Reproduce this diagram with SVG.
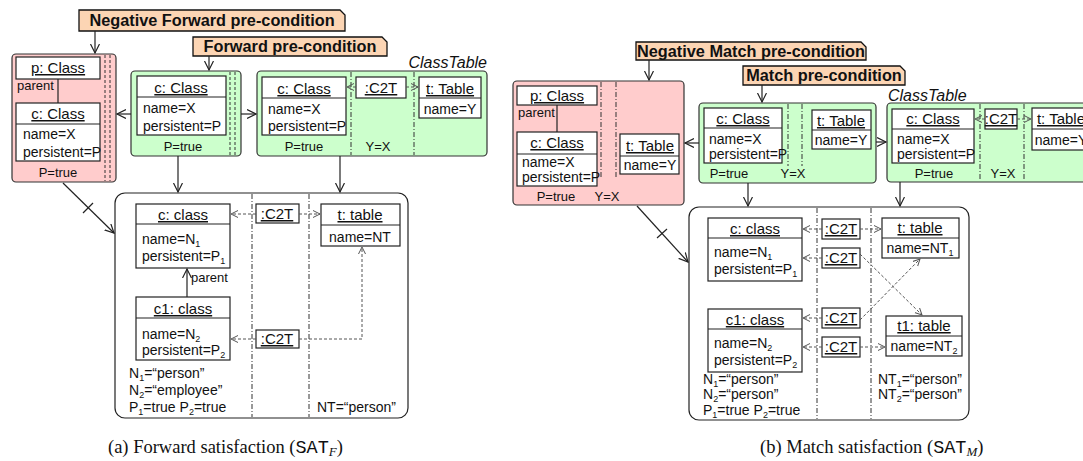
<svg xmlns="http://www.w3.org/2000/svg" width="1083" height="461" viewBox="0 0 1083 461">
<defs>
<style>
text{font-family:"Liberation Sans",Arial,sans-serif;fill:#111}
.lbl{fill:#fcd5b4;stroke:#111;stroke-width:1.3}
.lt{font-size:16.3px;font-weight:bold;text-anchor:middle}
.red{fill:#ffcccc;stroke:#333;stroke-width:1.2}
.grn{fill:#ccffcc;stroke:#333;stroke-width:1.2}
.obj{fill:#fff;stroke:#222;stroke-width:1.2}
.frm{fill:#fff;stroke:#222;stroke-width:1.2}
.ln{stroke:#222;stroke-width:1.2;fill:none}
.dd{stroke:#333;stroke-width:1;stroke-dasharray:5 2 1 2;fill:none}
.dsh{stroke:#333;stroke-width:1;stroke-dasharray:3 2;fill:none}
.nm{font-size:15px;text-anchor:middle;text-decoration:underline}
.at{font-size:14px}
.sm{font-size:13px}
.mid{text-anchor:middle}
.ar{stroke:#222;stroke-width:1.2;fill:none;marker-end:url(#a)}
.da{stroke:#555;stroke-width:1;stroke-dasharray:3 2;fill:none;marker-end:url(#d)}
.cap{font-family:"Liberation Serif","Times New Roman",serif;font-size:18.5px}
</style>
<marker id="a" markerUnits="userSpaceOnUse" markerWidth="12" markerHeight="12" refX="9" refY="5" orient="auto"><path d="M0,0.5 L9,5 L0,9.5" fill="none" stroke="#222" stroke-width="1.2"/></marker>
<marker id="d" markerUnits="userSpaceOnUse" markerWidth="10" markerHeight="10" refX="7" refY="4" orient="auto"><path d="M0,0.5 L7,4 L0,7.5" fill="none" stroke="#555" stroke-width="1"/></marker>
</defs>
<rect width="1083" height="461" fill="#fff"/>

<!-- ===== Panel (a) ===== -->
<g id="lbl-neg-fwd">
<path class="lbl" d="M79,10 H340 L345,15 V31 H79 Z"/>
<text class="lt" x="212" y="26">Negative Forward pre-condition</text>
</g>
<g id="lbl-fwd">
<path class="lbl" d="M193,37 H382 L387,42 V56 H193 Z"/>
<text class="lt" x="290" y="52">Forward pre-condition</text>
</g>

<g id="nac-a">
<rect class="red" x="12" y="54" width="104" height="128" rx="4"/>
<line class="dsh" x1="105" y1="55" x2="105" y2="181"/>
<line class="dsh" x1="110" y1="55" x2="110" y2="181"/>
<rect class="obj" x="16" y="57" width="84" height="22"/>
<text class="nm" x="58" y="73">p: Class</text>
<line class="ln" x1="58" y1="79" x2="58" y2="103"/>
<text class="sm" x="17" y="90">parent</text>
<rect class="obj" x="16" y="103" width="84" height="58"/>
<line class="ln" x1="16" y1="124" x2="100" y2="124"/>
<text class="nm" x="58" y="119">c: Class</text>
<text class="at" x="23" y="139">name=X</text>
<text class="at" x="23" y="157">persistent=P</text>
<text class="sm mid" x="58" y="177">P=true</text>
</g>

<g id="fwd-a">
<rect class="grn" x="131" y="71" width="110" height="85" rx="4"/>
<line class="dsh" x1="230" y1="72" x2="230" y2="155"/>
<line class="dsh" x1="235" y1="72" x2="235" y2="155"/>
<rect class="obj" x="137" y="76" width="89" height="59"/>
<line class="ln" x1="137" y1="97" x2="226" y2="97"/>
<text class="nm" x="181" y="93">c: Class</text>
<text class="at" x="143" y="113">name=X</text>
<text class="at" x="143" y="131">persistent=P</text>
<text class="sm mid" x="183" y="151">P=true</text>
</g>

<g id="ct-a">
<text x="487" y="68" font-size="16" font-style="italic" text-anchor="end">ClassTable</text>
<rect class="grn" x="257" y="71" width="230" height="85" rx="4"/>
<line class="dd" x1="351" y1="72" x2="351" y2="155"/>
<line class="dd" x1="414" y1="72" x2="414" y2="155"/>
<rect class="obj" x="262" y="77" width="84" height="58"/>
<line class="ln" x1="262" y1="98" x2="346" y2="98"/>
<text class="nm" x="304" y="94">c: Class</text>
<text class="at" x="268" y="114">name=X</text>
<text class="at" x="268" y="131">persistent=P</text>
<rect class="obj" x="356" y="77" width="50" height="21"/>
<text class="nm" x="381" y="93">:C2T</text>
<rect class="obj" x="419" y="77" width="62" height="41"/>
<line class="ln" x1="419" y1="98" x2="481" y2="98"/>
<text class="nm" x="450" y="94">t: Table</text>
<text class="at mid" x="450" y="114">name=Y</text>
<text class="sm mid" x="304" y="151">P=true</text>
<text class="sm mid" x="378" y="151">Y=X</text>
</g>

<g id="sat-a">
<rect class="frm" x="115" y="193" width="293" height="225" rx="10"/>
<line class="dd" x1="252" y1="194" x2="252" y2="417"/>
<line class="dd" x1="309" y1="194" x2="309" y2="417"/>
<rect class="obj" x="136" y="204" width="94" height="64"/>
<line class="ln" x1="136" y1="224" x2="230" y2="224"/>
<text class="nm" x="183" y="220">c: class</text>
<text class="at" x="142" y="244">name=N<tspan font-size="9" dy="3">1</tspan></text>
<text class="at" x="142" y="261">persistent=P<tspan font-size="9" dy="3">1</tspan></text>
<rect class="obj" x="136" y="297" width="94" height="63"/>
<line class="ln" x1="136" y1="318" x2="230" y2="318" stroke-width="1.6"/>
<text class="nm" x="183" y="314">c1: class</text>
<text class="at" x="142" y="339">name=N<tspan font-size="9" dy="3">2</tspan></text>
<text class="at" x="142" y="355">persistent=P<tspan font-size="9" dy="3">2</tspan></text>
<text class="sm" x="191" y="282">parent</text>
<rect class="obj" x="256" y="204" width="43" height="19"/>
<text class="nm" x="277" y="219">:C2T</text>
<rect class="obj" x="256" y="330" width="43" height="18"/>
<text class="nm" x="277" y="344">:C2T</text>
<rect class="obj" x="321" y="204" width="79" height="42"/>
<line class="ln" x1="321" y1="225" x2="400" y2="225"/>
<text class="nm" x="360" y="220">t: table</text>
<text class="at mid" x="360" y="242">name=NT</text>
<text class="at" x="129" y="378">N<tspan font-size="9" dy="3">1</tspan><tspan dy="-3">=“person”</tspan></text>
<text class="at" x="129" y="395">N<tspan font-size="9" dy="3">2</tspan><tspan dy="-3">=“employee”</tspan></text>
<text class="at" x="129" y="412">P<tspan font-size="9" dy="3">1</tspan><tspan dy="-3">=true P</tspan><tspan font-size="9" dy="3">2</tspan><tspan dy="-3">=true</tspan></text>
<text class="at" x="317" y="412">NT=“person”</text>
</g>

<!-- ===== Panel (b) ===== -->
<g id="lbl-neg-match">
<path class="lbl" d="M636,42 H861 L866,47 V60 H636 Z"/>
<text class="lt" x="751" y="57">Negative Match pre-condition</text>
</g>
<g id="lbl-match">
<path class="lbl" d="M743,66 H900 L905,71 V85 H743 Z"/>
<text class="lt" x="824" y="81">Match pre-condition</text>
</g>

<g id="nac-b">
<rect class="red" x="513" y="81" width="171" height="124" rx="4"/>
<line class="dd" x1="601" y1="82" x2="601" y2="178"/>
<line class="dd" x1="616" y1="82" x2="616" y2="178"/>
<rect class="obj" x="517" y="86" width="80" height="19"/>
<text class="nm" x="557" y="101">p: Class</text>
<line class="ln" x1="557" y1="105" x2="557" y2="132"/>
<text class="sm" x="518" y="117">parent</text>
<rect class="obj" x="517" y="132" width="80" height="54"/>
<line class="ln" x1="517" y1="154" x2="597" y2="154"/>
<text class="nm" x="557" y="148">c: Class</text>
<text class="at" x="522" y="167">name=X</text>
<text class="at" x="522" y="182">persistent=P</text>
<rect class="obj" x="620" y="134" width="59" height="40"/>
<line class="ln" x1="620" y1="156" x2="679" y2="156"/>
<text class="nm" x="650" y="151">t: Table</text>
<text class="at mid" x="650" y="170">name=Y</text>
<text class="sm mid" x="556" y="201">P=true</text>
<text class="sm mid" x="607" y="201">Y=X</text>
</g>

<g id="match-b">
<rect class="grn" x="699" y="103" width="177" height="80" rx="4"/>
<line class="dd" x1="788" y1="104" x2="788" y2="166"/>
<line class="dd" x1="802" y1="104" x2="802" y2="166"/>
<rect class="obj" x="704" y="108" width="78" height="55"/>
<line class="ln" x1="704" y1="128" x2="782" y2="128"/>
<text class="nm" x="743" y="124">c: Class</text>
<text class="at" x="709" y="144">name=X</text>
<text class="at" x="709" y="159">persistent=P</text>
<rect class="obj" x="812" y="110" width="59" height="39"/>
<line class="ln" x1="812" y1="130" x2="871" y2="130"/>
<text class="nm" x="841" y="126">t: Table</text>
<text class="at mid" x="841" y="145">name=Y</text>
<text class="sm mid" x="729" y="178">P=true</text>
<text class="sm mid" x="793" y="178">Y=X</text>
</g>

<g id="ct-b">
<text x="888" y="101" font-size="16" font-style="italic">ClassTable</text>
<rect class="grn" x="887" y="103" width="210" height="79" rx="4"/>
<line class="dd" x1="980" y1="104" x2="980" y2="181"/>
<line class="dd" x1="1024" y1="104" x2="1024" y2="181"/>
<rect class="obj" x="892" y="109" width="82" height="54"/>
<line class="ln" x1="892" y1="129" x2="974" y2="129"/>
<text class="nm" x="933" y="124">c: Class</text>
<text class="at" x="897" y="144">name=X</text>
<text class="at" x="897" y="159">persistent=P</text>
<rect class="obj" x="985" y="109" width="32" height="20"/>
<text class="nm" x="1001" y="124">:C2T</text>
<rect class="obj" x="1032" y="108" width="62" height="42"/>
<line class="ln" x1="1032" y1="129" x2="1094" y2="129"/>
<text class="nm" x="1061" y="124">t: Table</text>
<text class="at mid" x="1061" y="145">name=Y</text>
<text class="sm mid" x="934" y="178">P=true</text>
<text class="sm mid" x="1003" y="178">Y=X</text>
</g>

<g id="sat-b">
<rect class="frm" x="689" y="207" width="280" height="213" rx="10"/>
<line class="dd" x1="817" y1="208" x2="817" y2="419"/>
<line class="dd" x1="871" y1="208" x2="871" y2="419"/>
<rect class="obj" x="708" y="218" width="94" height="63"/>
<line class="ln" x1="708" y1="238" x2="802" y2="238"/>
<text class="nm" x="755" y="234">c: class</text>
<text class="at" x="714" y="257">name=N<tspan font-size="9" dy="3">1</tspan></text>
<text class="at" x="714" y="274">persistent=P<tspan font-size="9" dy="3">1</tspan></text>
<rect class="obj" x="708" y="309" width="94" height="63"/>
<line class="ln" x1="708" y1="329" x2="802" y2="329"/>
<text class="nm" x="755" y="325">c1: class</text>
<text class="at" x="714" y="348">name=N<tspan font-size="9" dy="3">2</tspan></text>
<text class="at" x="714" y="365">persistent=P<tspan font-size="9" dy="3">2</tspan></text>
<rect class="obj" x="822" y="219" width="38" height="20"/>
<text class="nm" x="841" y="234">:C2T</text>
<rect class="obj" x="822" y="248" width="38" height="20"/>
<text class="nm" x="841" y="263">:C2T</text>
<rect class="obj" x="822" y="308" width="38" height="20"/>
<text class="nm" x="841" y="323">:C2T</text>
<rect class="obj" x="822" y="337" width="38" height="20"/>
<text class="nm" x="841" y="352">:C2T</text>
<rect class="obj" x="882" y="218" width="77" height="40"/>
<line class="ln" x1="882" y1="238" x2="959" y2="238" stroke-width="1.6"/>
<text class="nm" x="920" y="233">t: table</text>
<text class="at mid" x="920" y="253">name=NT<tspan font-size="9" dy="3">1</tspan></text>
<rect class="obj" x="886" y="316" width="76" height="40"/>
<line class="ln" x1="886" y1="336" x2="962" y2="336" stroke-width="1.6"/>
<text class="nm" x="924" y="331">t1: table</text>
<text class="at mid" x="924" y="351">name=NT<tspan font-size="9" dy="3">2</tspan></text>
<text class="at" x="703" y="384">N<tspan font-size="9" dy="3">1</tspan><tspan dy="-3">=“person”</tspan></text>
<text class="at" x="703" y="399">N<tspan font-size="9" dy="3">2</tspan><tspan dy="-3">=“person”</tspan></text>
<text class="at" x="703" y="415">P<tspan font-size="9" dy="3">1</tspan><tspan dy="-3">=true P</tspan><tspan font-size="9" dy="3">2</tspan><tspan dy="-3">=true</tspan></text>
<text class="at" x="878" y="384">NT<tspan font-size="9" dy="3">1</tspan><tspan dy="-3">=“person”</tspan></text>
<text class="at" x="878" y="399">NT<tspan font-size="9" dy="3">2</tspan><tspan dy="-3">=“person”</tspan></text>
</g>

<g id="connectors">
<!-- panel a -->
<line class="ar" x1="95" y1="31" x2="95" y2="53"/>
<line class="ar" x1="209" y1="56" x2="209" y2="70"/>
<line class="ar" x1="131" y1="114" x2="117" y2="114"/>
<line class="ar" x1="241" y1="114" x2="256" y2="114"/>
<line class="ar" x1="178" y1="156" x2="178" y2="192"/>
<line class="ar" x1="340" y1="156" x2="340" y2="192"/>
<line class="ar" x1="63" y1="183" x2="114" y2="233"/>
<line class="ln" x1="83" y1="213" x2="93" y2="203"/>
<line class="ar" x1="187" y1="297" x2="187" y2="269"/>
<line class="da" x1="356" y1="87" x2="347" y2="87"/>
<line class="da" x1="406" y1="87" x2="418" y2="87"/>
<line class="da" x1="256" y1="214" x2="231" y2="214"/>
<line class="da" x1="299" y1="214" x2="320" y2="214"/>
<line class="da" x1="256" y1="339" x2="231" y2="339"/>
<polyline class="da" points="299,339 362,339 362,247"/>
<!-- panel b -->
<line class="ar" x1="649" y1="60" x2="649" y2="80"/>
<line class="ar" x1="762" y1="85" x2="762" y2="102"/>
<line class="ar" x1="699" y1="143" x2="685" y2="143"/>
<line class="ar" x1="876" y1="142" x2="886" y2="142"/>
<line class="ar" x1="748" y1="183" x2="748" y2="206"/>
<line class="ar" x1="900" y1="182" x2="900" y2="206"/>
<line class="ar" x1="637" y1="206" x2="688" y2="262"/>
<line class="ln" x1="657" y1="238" x2="667" y2="229"/>
<line class="da" x1="985" y1="119" x2="975" y2="119"/>
<line class="da" x1="1017" y1="119" x2="1031" y2="119"/>
<line class="da" x1="822" y1="229" x2="803" y2="229"/>
<line class="da" x1="860" y1="229" x2="881" y2="229"/>
<line class="da" x1="822" y1="258" x2="803" y2="258"/>
<line class="da" x1="860" y1="254" x2="922" y2="315"/>
<line class="da" x1="822" y1="318" x2="803" y2="318"/>
<line class="da" x1="860" y1="320" x2="920" y2="259"/>
<line class="da" x1="822" y1="347" x2="803" y2="347"/>
<line class="da" x1="860" y1="347" x2="885" y2="347"/>
</g>

<g id="captions">
<text class="cap" x="108" y="453">(a) Forward satisfaction (<tspan font-family="Liberation Mono,monospace">SAT</tspan><tspan font-style="italic" font-size="13" dy="3">F</tspan><tspan dy="-3">)</tspan></text>
<text class="cap" x="760" y="453">(b) Match satisfaction (<tspan font-family="Liberation Mono,monospace">SAT</tspan><tspan font-style="italic" font-size="13" dy="3">M</tspan><tspan dy="-3">)</tspan></text>
</g>
</svg>
